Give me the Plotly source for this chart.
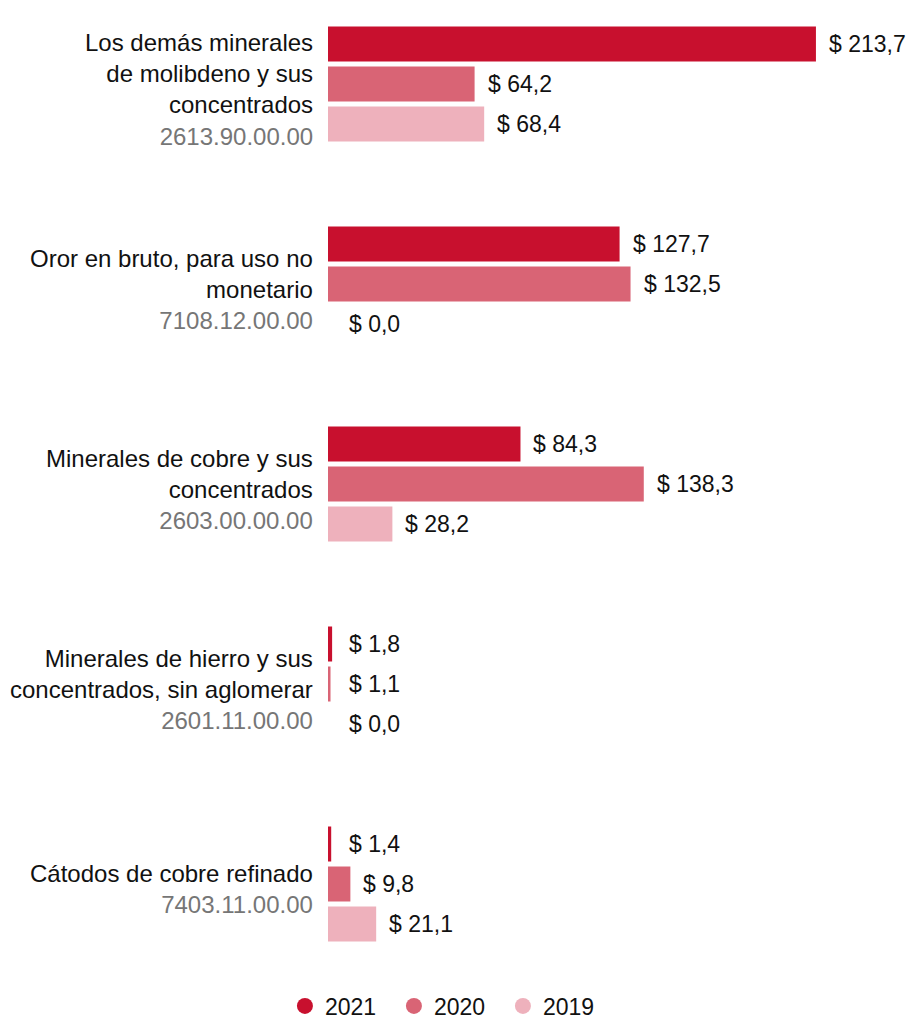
import plotly.graph_objects as go

categories = [
    "Los demás minerales<br>de molibdeno y sus<br>concentrados",
    "Oror en bruto, para uso no<br>monetario",
    "Minerales de cobre y sus<br>concentrados",
    "Minerales de hierro y sus<br>concentrados, sin aglomerar",
    "Cátodos de cobre refinado",
]
codes = ["2613.90.00.00", "7108.12.00.00", "2603.00.00.00", "2601.11.00.00", "7403.11.00.00"]

series_names = ["2021", "2020", "2019"]
values_2021 = [213.7, 127.7, 84.3, 1.8, 1.4]
values_2020 = [64.2, 132.5, 138.3, 1.1, 9.8]
values_2019 = [68.4, 0.0, 28.2, 0.0, 21.1]
series_values = [values_2021, values_2020, values_2019]
colors = ["#C8102E", "#D96475", "#EEB1BC"]

FONT = "Liberation Sans, Arial, Helvetica, sans-serif"
FS_CAT = 24
FS_VAL = 23
MIN_LABEL_X = 3.5  # labels of tiny bars sit past a minimum bar length

ypos = list(range(len(categories)))

fig = go.Figure()
for name, vals, col in zip(series_names, series_values, colors):
    fig.add_trace(go.Bar(
        y=ypos, x=vals, orientation="h", name=name,
        marker=dict(color=col, line=dict(width=0)),
        showlegend=False, hoverinfo="skip",
    ))
    fig.add_trace(go.Scatter(
        x=[None], y=[None], mode="markers", name=name,
        marker=dict(symbol="circle", size=17, color=col),
        showlegend=True,
    ))

# category labels (name + gray tariff code)
for i, (c, code) in enumerate(zip(categories, codes)):
    fig.add_annotation(
        x=0, y=i, xref="paper", yref="y", xanchor="right", yanchor="middle",
        xshift=-13, yshift=-5, showarrow=False, align="right",
        text=f"{c}<br><span style='color:#767676'>{code}</span>",
        font=dict(family=FONT, size=FS_CAT, color="#111111"),
    )

# value labels
offsets = [40, 0, -40]
for vals, off in zip(series_values, offsets):
    for i, v in enumerate(vals):
        fig.add_annotation(
            x=max(v, MIN_LABEL_X), y=i, xref="x", yref="y", xanchor="left", yanchor="middle",
            xshift=11, yshift=off, showarrow=False,
            text=f"$ {v:.1f}".replace(".", ","),
            font=dict(family=FONT, size=FS_VAL, color="#111111"),
        )

fig.update_layout(
    width=907, height=1025,
    margin=dict(l=328, r=10, t=20, b=65),
    paper_bgcolor="white", plot_bgcolor="white",
    barmode="group", bargap=0.4, bargroupgap=0.125,
    font=dict(family=FONT, size=FS_VAL, color="#111111"),
    xaxis=dict(range=[0, 249.2], visible=False, fixedrange=True),
    yaxis=dict(
        range=[4.38, -0.32], visible=False, fixedrange=True, automargin=False,
    ),
    legend=dict(
        orientation="h", xref="container", yref="container",
        x=0.4944, xanchor="center", y=19 / 1025, yanchor="middle",
        font=dict(family=FONT, size=FS_VAL, color="#111111"),
        entrywidth=64, entrywidthmode="pixels",
    ),
    showlegend=True,
)

fig.write_html(
    "out.html",
    config={"displayModeBar": False},
    post_script="document.body.style.margin='0';",
)
